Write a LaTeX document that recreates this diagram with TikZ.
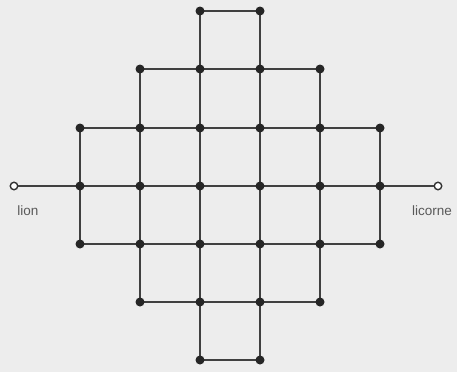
\documentclass[tikz,border=0pt]{standalone}
\usepackage{fontspec}
\setmainfont{Liberation Sans}
\begin{document}
\begin{tikzpicture}[x=1pt,y=-1pt,
  dot/.style={circle,fill=black!85,inner sep=0pt,minimum size=9pt},
  open/.style={circle,draw=black!80,fill=white,line width=1.4pt,inner sep=0pt,minimum size=7.5pt},
  edge/.style={draw=black!75,line width=1.6pt},
  lbl/.style={font=\fontsize{13.5}{15}\selectfont,text=black!65,inner sep=0pt}]
\fill[black!7] (0,0) rectangle (457,372);
\useasboundingbox (0,0) rectangle (457,372);
\foreach \c/\x in {1/80,2/140,3/200,4/260,5/320,6/380}{
  \foreach \r/\y in {1/11,2/69,3/128,4/186,5/244,6/302,7/360}{
    \coordinate (p\c\r) at (\x,\y);
  }
}
% edges
\draw[edge] (p31) -- (p41);
\draw[edge] (p22) -- (p52);
\draw[edge] (p13) -- (p63);
\draw[edge] (p14) -- (p64);
\draw[edge] (p15) -- (p65);
\draw[edge] (p26) -- (p56);
\draw[edge] (p37) -- (p47);
\draw[edge] (p13) -- (p15);
\draw[edge] (p22) -- (p26);
\draw[edge] (p31) -- (p37);
\draw[edge] (p41) -- (p47);
\draw[edge] (p52) -- (p56);
\draw[edge] (p63) -- (p65);
% terminals
\node[open] (lion) at (14,186) {};
\node[open] (licorne) at (438,186) {};
\draw[edge] (lion) -- (p14);
\draw[edge] (licorne) -- (p64);
\node[lbl] (lionl) at (28,211) {lion};
\node[lbl,anchor=west] (licornel) at (412,211) {licorne};
% dots
\foreach \n in {31,41,22,32,42,52,13,23,33,43,53,63,14,24,34,44,54,64,15,25,35,45,55,65,26,36,46,56,37,47}{
  \node[dot] (d\n) at (p\n) {};
}
\end{tikzpicture}
\end{document}
